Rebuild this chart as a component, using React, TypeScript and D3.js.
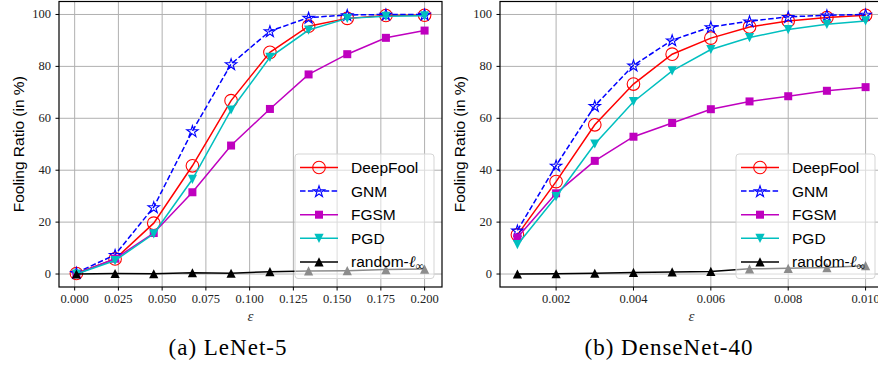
import * as d3 from "d3";
import { useEffect, useRef } from "react";

// ---- data ----
const LENET_EPS = [0.001, 0.0231, 0.0452, 0.0673, 0.0894, 0.1116, 0.1337, 0.1558, 0.1779, 0.2];
const LENET_DEEPFOOL = [0.2, 5.8, 19.6, 41.7, 66.8, 85.4, 95.5, 98.5, 99.6, 99.7];
const LENET_GNM = [0.5, 7.4, 25.8, 55.1, 80.9, 93.6, 98.8, 99.8, 100, 100];
const LENET_FGSM = [0, 5.9, 15.8, 31.5, 49.5, 63.6, 76.9, 84.7, 91.0, 93.8];
const LENET_PGD = [0, 5.2, 15.5, 36.5, 63.2, 83.5, 94.0, 98.5, 99.3, 99.5];
const LENET_RANDOM = [0, 0.2, 0.1, 0.5, 0.3, 0.9, 1.2, 1.3, 1.7, 1.9];
const LENET_XTICKS = [0, 0.025, 0.05, 0.075, 0.1, 0.125, 0.15, 0.175, 0.2];

const DENSE_EPS = [0.001, 0.002, 0.003, 0.004, 0.005, 0.006, 0.007, 0.008, 0.009, 0.01];
const DENSE_DEEPFOOL = [15.1, 35.6, 57.5, 73.2, 84.7, 90.9, 95.2, 97.5, 98.8, 99.7];
const DENSE_GNM = [16.8, 41.8, 64.8, 80.4, 90.1, 95.2, 97.4, 99.1, 99.7, 100];
const DENSE_FGSM = [14.1, 31.1, 43.6, 52.9, 58.2, 63.5, 66.5, 68.5, 70.6, 72.0];
const DENSE_PGD = [11.3, 29.8, 50.1, 66.4, 78.3, 86.5, 91.1, 94.2, 96.2, 97.5];
const DENSE_RANDOM = [0, 0.1, 0.3, 0.6, 0.8, 1.0, 2.0, 2.2, 2.5, 3.2];
const DENSE_XTICKS = [0.002, 0.004, 0.006, 0.008, 0.01];

const Y_TICKS = [0, 20, 40, 60, 80, 100];
const SERIES_NAMES = ["DeepFool", "GNM", "FGSM", "PGD", "random"];

const STYLE: Record<string, { color: string; marker: string; dash?: string }> = {
  DeepFool: { color: "#ff0000", marker: "circle" },
  GNM: { color: "#0000ff", marker: "star", dash: "5.5,2.4" },
  FGSM: { color: "#bf00bf", marker: "square" },
  PGD: { color: "#00bfbf", marker: "tridown" },
  random: { color: "#000000", marker: "triup" },
};

const SANS = "'Liberation Sans', Arial, sans-serif";
const SERIF = "'Liberation Serif', 'Times New Roman', serif";

const W = 878;
const H = 365;
const TOP = 1.5;
const BOTTOM = 287;

const drawMarker = (g, kind: string, x: number, y: number, color: string) => {
  if (kind === "circle") {
    g.append("circle")
      .attr("cx", x)
      .attr("cy", y)
      .attr("r", 6.3)
      .attr("fill", "none")
      .attr("stroke", color)
      .attr("stroke-width", 1.1);
  } else if (kind === "star") {
    g.append("path")
      .attr("d", d3.symbol(d3.symbolStar, 40)())
      .attr("transform", `translate(${x},${y + 0.6})`)
      .attr("fill", "none")
      .attr("stroke", color)
      .attr("stroke-width", 1.1);
  } else if (kind === "square") {
    g.append("rect")
      .attr("x", x - 4)
      .attr("y", y - 4)
      .attr("width", 8)
      .attr("height", 8)
      .attr("fill", color);
  } else {
    const s = kind === "triup" ? 1 : -1;
    const r = 4.6;
    g.append("path")
      .attr("d", `M${x},${y - s * r}L${x + r},${y + s * r}L${x - r},${y + s * r}Z`)
      .attr("fill", color);
  }
};

const drawPanel = (svg, opts) => {
  const { left, right, domain, xTicks, series, caption } = opts;
  const x = d3.scaleLinear().domain(domain).range([left, right]);
  const y = d3.scaleLinear().domain([-5, 105]).range([BOTTOM, TOP]);
  const g = svg.append("g");

  // grid
  g.selectAll(".vgrid")
    .data(xTicks)
    .enter()
    .append("line")
    .attr("x1", (d) => x(d))
    .attr("x2", (d) => x(d))
    .attr("y1", TOP)
    .attr("y2", BOTTOM)
    .attr("stroke", "#b0b0b0")
    .attr("stroke-width", 1);
  g.selectAll(".hgrid")
    .data(Y_TICKS)
    .enter()
    .append("line")
    .attr("x1", left)
    .attr("x2", right)
    .attr("y1", (d) => y(d))
    .attr("y2", (d) => y(d))
    .attr("stroke", "#b0b0b0")
    .attr("stroke-width", 1);

  // lines + markers
  SERIES_NAMES.forEach((name, i) => {
    const st = STYLE[name];
    const vals = series[i];
    const pts = vals.map((v, j) => [x(opts.eps[j]), y(v)]);
    g.append("path")
      .attr("d", d3.line()(pts))
      .attr("fill", "none")
      .attr("stroke", st.color)
      .attr("stroke-width", 1.5)
      .attr("stroke-dasharray", st.dash || null);
    pts.forEach((p) => drawMarker(g, st.marker, p[0], p[1], st.color));
  });

  // legend
  const lw = 139;
  const lh = 124.5;
  const lx = right - 8 - lw;
  const ly = BOTTOM - 8.5 - lh;
  g.append("rect")
    .attr("x", lx)
    .attr("y", ly)
    .attr("width", lw)
    .attr("height", lh)
    .attr("rx", 3)
    .attr("fill", "#ffffff")
    .attr("fill-opacity", 0.55)
    .attr("stroke", "#d5d5d5")
    .attr("stroke-width", 1);
  SERIES_NAMES.forEach((name, i) => {
    const st = STYLE[name];
    const cy = ly + 13.5 + i * 23.6;
    g.append("line")
      .attr("x1", lx + 5)
      .attr("x2", lx + 43)
      .attr("y1", cy)
      .attr("y2", cy)
      .attr("stroke", st.color)
      .attr("stroke-width", 1.5)
      .attr("stroke-dasharray", st.dash || null);
    drawMarker(g, st.marker, lx + 24, cy, st.color);
    const t = g
      .append("text")
      .attr("x", lx + 56)
      .attr("y", cy + 5.5)
      .attr("font-family", SANS)
      .attr("font-size", "15.5px")
      .attr("fill", "#000");
    if (name === "random") {
      t.append("tspan").text("random-");
      t.append("tspan").attr("font-family", SERIF).attr("font-style", "italic").attr("font-size", "16px").text("ℓ");
      t.append("tspan").attr("font-family", SERIF).attr("font-size", "12px").attr("dy", 3).text("∞");
    } else {
      t.text(name);
    }
  });

  // spines
  g.append("rect")
    .attr("x", left)
    .attr("y", TOP)
    .attr("width", right - left)
    .attr("height", BOTTOM - TOP)
    .attr("fill", "none")
    .attr("stroke", "#000")
    .attr("stroke-width", 1.2);

  // ticks
  g.selectAll(".xtick")
    .data(xTicks)
    .enter()
    .append("line")
    .attr("x1", (d) => x(d))
    .attr("x2", (d) => x(d))
    .attr("y1", BOTTOM)
    .attr("y2", BOTTOM + 3.5)
    .attr("stroke", "#000");
  g.selectAll(".xlabel")
    .data(xTicks)
    .enter()
    .append("text")
    .attr("x", (d) => x(d))
    .attr("y", BOTTOM + 16)
    .attr("text-anchor", "middle")
    .attr("font-family", SERIF)
    .attr("font-size", "12.5px")
    .attr("fill", "#222")
    .text((d) => d3.format(".3f")(d));
  g.selectAll(".ytick")
    .data(Y_TICKS)
    .enter()
    .append("line")
    .attr("x1", left - 3.5)
    .attr("x2", left)
    .attr("y1", (d) => y(d))
    .attr("y2", (d) => y(d))
    .attr("stroke", "#000");
  g.selectAll(".ylabel")
    .data(Y_TICKS)
    .enter()
    .append("text")
    .attr("x", left - 8)
    .attr("y", (d) => y(d) + 4)
    .attr("text-anchor", "end")
    .attr("font-family", SERIF)
    .attr("font-size", "12.5px")
    .attr("fill", "#222")
    .text((d) => d);

  // axis titles
  g.append("text")
    .attr("transform", "rotate(-90)")
    .attr("x", -(TOP + BOTTOM) / 2)
    .attr("y", left - 35)
    .attr("text-anchor", "middle")
    .attr("font-family", SANS)
    .attr("font-size", "15.5px")
    .attr("fill", "#000")
    .text("Fooling Ratio (in %)");
  g.append("text")
    .attr("x", (left + right) / 2)
    .attr("y", BOTTOM + 34)
    .attr("text-anchor", "middle")
    .attr("font-family", SERIF)
    .attr("font-style", "italic")
    .attr("font-size", "15px")
    .attr("fill", "#333")
    .text("ε");
  g.append("text")
    .attr("x", opts.captionX)
    .attr("y", 355)
    .attr("text-anchor", "middle")
    .attr("font-family", SERIF)
    .attr("font-size", "23px")
    .attr("letter-spacing", "1px")
    .attr("fill", "#000")
    .text(caption);
};

const App = () => {
  const svgRef = useRef(null);

  useEffect(() => {
    const svg = d3.select(svgRef.current);
    svg.selectAll("*").remove();
    svg.append("rect").attr("width", W).attr("height", H).attr("fill", "#fff");

    drawPanel(svg, {
      left: 59,
      right: 442,
      domain: [-0.00895, 0.20995],
      eps: LENET_EPS,
      xTicks: LENET_XTICKS,
      series: [LENET_DEEPFOOL, LENET_GNM, LENET_FGSM, LENET_PGD, LENET_RANDOM],
      caption: "(a) LeNet-5",
      captionX: 228,
    });
    drawPanel(svg, {
      left: 500,
      right: 883,
      domain: [0.00055, 0.01045],
      eps: DENSE_EPS,
      xTicks: DENSE_XTICKS,
      series: [DENSE_DEEPFOOL, DENSE_GNM, DENSE_FGSM, DENSE_PGD, DENSE_RANDOM],
      caption: "(b) DenseNet-40",
      captionX: 669,
    });
  }, []);

  return (
    <svg
      ref={svgRef}
      width={W}
      height={H}
      style={{ position: "absolute", left: 0, top: 0 }}
    />
  );
};

export default App;
